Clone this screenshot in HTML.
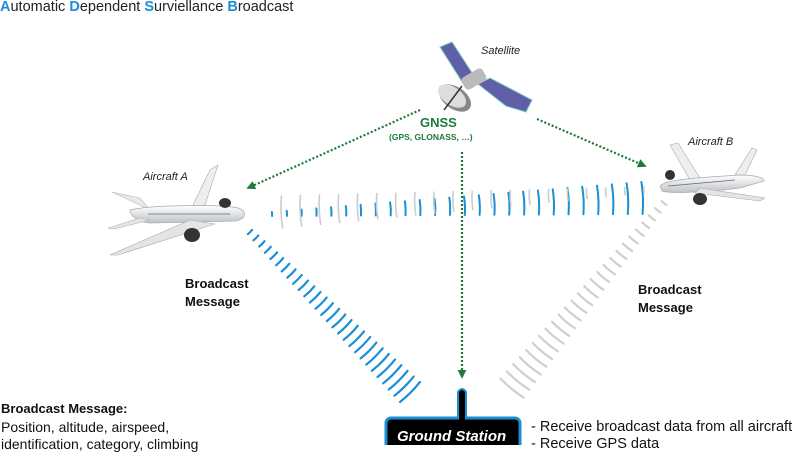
<!DOCTYPE html>
<html><head><style>
html,body{margin:0;padding:0;background:#fff;}
body{width:800px;height:445px;overflow:hidden;position:relative;font-family:"Liberation Sans",sans-serif;}
.t{position:absolute;white-space:nowrap;color:#222;}
</style></head><body>
<svg id="s" width="800" height="445" style="position:absolute;left:0;top:0">
<defs>
<marker id="ar" viewBox="0 0 10 10" refX="8" refY="5" markerWidth="4" markerHeight="4" orient="auto"><path d="M0,0L10,5L0,10z" fill="#1e7a3c"/></marker>
<linearGradient id="pl" x1="0" y1="0" x2="0" y2="1"><stop offset="0" stop-color="#fff"/><stop offset="1" stop-color="#bfc3c7"/></linearGradient>
</defs>
<g id="waves"></g>
<g stroke="#1e7a3c" stroke-width="2.2" stroke-dasharray="2 2" fill="none" marker-end="url(#ar)">
<line x1="420" y1="110" x2="248" y2="188"/>
<line x1="537" y1="119" x2="645" y2="166"/>
<line x1="462" y1="152" x2="462" y2="377"/>
</g>
<g>
<polygon points="440,47 452,42 478,82 466,88" fill="#5f5fa8" stroke="#7fc8c0" stroke-width="1"/>
<polygon points="478,84 490,78 532,100 526,112 506,106" fill="#5f5fa8" stroke="#7fc8c0" stroke-width="1"/>
<rect x="462" y="72" width="24" height="14" rx="4" fill="#bbb" transform="rotate(-30 474 79)"/>
<ellipse cx="455" cy="98" rx="18" ry="11" fill="#888" transform="rotate(35 455 98)"/>
<ellipse cx="452" cy="96" rx="16" ry="9" fill="#ddd" transform="rotate(35 452 96)"/>
<line x1="462" y1="86" x2="444" y2="110" stroke="#333" stroke-width="1.5"/>
</g>
<g>
<path d="M112,192 L140,198 L150,210 Z" fill="#e8e8e8" stroke="#bbb" stroke-width=".6"/>
<path d="M210,170 L218,165 L205,205 L192,207 Z" fill="#eee" stroke="#aaa" stroke-width=".6"/>
<path d="M130,210 C150,205 220,204 238,208 C248,211 246,219 236,221 L150,223 C138,222 130,216 130,210Z" fill="url(#pl)" stroke="#aaa" stroke-width=".7"/>
<path d="M190,220 L110,255 L118,255 L215,224 Z" fill="#e4e4e4" stroke="#aaa" stroke-width=".6"/>
<path d="M140,218 L108,228 L114,229 L150,220Z" fill="#e4e4e4" stroke="#aaa" stroke-width=".5"/>
<ellipse cx="192" cy="235" rx="8" ry="7" fill="#333"/>
<ellipse cx="225" cy="203" rx="6" ry="5" fill="#333"/>
<line x1="148" y1="214" x2="230" y2="214" stroke="#667" stroke-width=".8"/>
</g>
<g>
<path d="M670,145 L678,143 L700,178 L690,180 Z" fill="#eee" stroke="#aaa" stroke-width=".6"/>
<path d="M752,148 L757,150 L745,175 L735,175 Z" fill="#eee" stroke="#aaa" stroke-width=".6"/>
<path d="M660,186 C665,180 690,178 740,175 C755,175 765,178 764,181 L740,188 C710,192 670,194 662,191Z" fill="url(#pl)" stroke="#aaa" stroke-width=".7"/>
<path d="M700,188 L765,198 L760,201 L695,193Z" fill="#e4e4e4" stroke="#aaa" stroke-width=".6"/>
<ellipse cx="700" cy="199" rx="7" ry="6" fill="#333"/>
<ellipse cx="670" cy="175" rx="5" ry="5" fill="#333"/>
<line x1="668" y1="186" x2="735" y2="180" stroke="#667" stroke-width=".8"/>
</g>
<path d="M458,418 L458,392 Q462,386 466,392 L466,418" fill="#000" stroke="#1a8fd6" stroke-width="2"/>
<rect x="386" y="418" width="134" height="40" rx="5" fill="#000" stroke="#1a8fd6" stroke-width="3"/>
<rect x="459" y="416" width="6" height="5" fill="#000"/>
</svg>
<div class="t" style="left:0;top:-1px;font-size:14.5px;color:#222">
<span style="color:#1a8fd6;font-weight:bold">A</span>utomatic <span style="color:#1a8fd6;font-weight:bold">D</span>ependent <span style="color:#1a8fd6;font-weight:bold">S</span>urviellance <span style="color:#1a8fd6;font-weight:bold">B</span>roadcast</div>
<div class="t" style="left:481px;top:45px;font-size:11px;font-style:italic">Satellite</div>
<div class="t" style="left:420px;top:115px;font-size:13px;font-weight:bold;color:#1e7a3c">GNSS</div>
<div class="t" style="left:389px;top:132px;font-size:8.5px;font-weight:bold;color:#1e7a3c">(GPS, GLONASS, …)</div>
<div class="t" style="left:143px;top:171px;font-size:11px;font-style:italic">Aircraft A</div>
<div class="t" style="left:688px;top:136px;font-size:11px;font-style:italic">Aircraft B</div>
<div class="t" style="left:185px;top:275px;font-size:13px;font-weight:bold;line-height:18px;color:#111">Broadcast<br>Message</div>
<div class="t" style="left:638px;top:281px;font-size:13px;font-weight:bold;line-height:18px;color:#111">Broadcast<br>Message</div>
<div class="t" style="left:1px;top:401px;font-size:13px;font-weight:bold;color:#111">Broadcast Message:</div>
<div class="t" style="left:1px;top:419px;font-size:14px;line-height:17px;color:#111">Position, altitude, airspeed,<br>identification, category, climbing</div>
<div class="t" style="left:531px;top:419px;font-size:14.5px;line-height:17px;color:#111">- Receive broadcast data from all aircraft<br>- Receive GPS data</div>
<div class="t" style="left:397px;top:428px;font-size:15px;font-weight:bold;font-style:italic;color:#fff">Ground Station</div>
<script>
var g=document.getElementById('waves'),h='';
function arc(cx,cy,dx,dy,len,col,w){
 var px=-dy,py=dx,hl=len/2;
 var x1=cx+px*hl,y1=cy+py*hl,x2=cx-px*hl,y2=cy-py*hl,bx=cx+dx*len*0.06,by=cy+dy*len*0.06;
 h+='<path d="M'+x1.toFixed(1)+','+y1.toFixed(1)+' Q'+bx.toFixed(1)+','+by.toFixed(1)+' '+x2.toFixed(1)+','+y2.toFixed(1)+'" stroke="'+col+'" stroke-width="'+w+'" fill="none" stroke-linecap="round"/>';
}
for(var i=0;i<26;i++){var t=i/25;arc(272+t*370,214-t*16,1,-0.04,4+t*28,'#1a8fd6',2);}
for(var i=0;i<20;i++){var t=i/19;arc(282+t*362,212-t*22,-1,0.04,32-t*26,'#ccc',1.6);}
var ax=250,ay=232,bx=410,by=392,dx=(bx-ax),dy=(by-ay),L=Math.hypot(dx,dy);
for(var i=0;i<28;i++){var t=i/27;arc(ax+dx*t,ay+dy*t,dx/L,dy/L,6+t*22,'#1a8fd6',2.2);}
ax=664;ay=203;bx=512;by=388;dx=bx-ax;dy=by-ay;L=Math.hypot(dx,dy);
for(var i=0;i<26;i++){var t=i/25;arc(ax+dx*t,ay+dy*t,dx/L,dy/L,6+t*24,'#cfcfcf',2.2);}
g.innerHTML=h;
</script>
</body></html>
